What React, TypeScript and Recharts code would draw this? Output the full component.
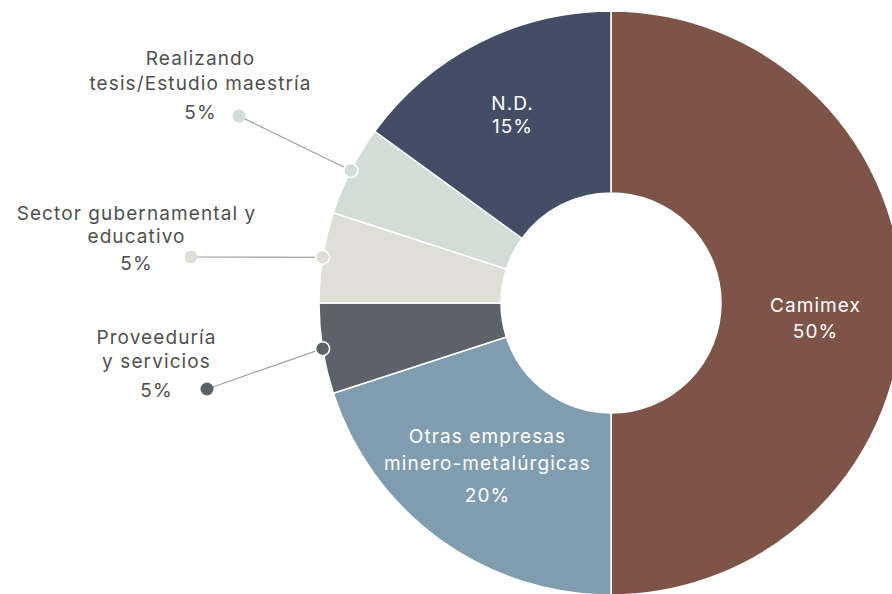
import { PieChart, Pie, Cell } from "recharts"

const names = [
  "Camimex",
  "Otras empresas minero-metalúrgicas",
  "Proveeduría y servicios",
  "Sector gubernamental y educativo",
  "Realizando tesis/Estudio maestría",
  "N.D.",
]
const values = [50, 20, 5, 5, 5, 15]
const colors = ["#7e5449", "#7f9daf", "#5b626a", "#e0dfd7", "#d3ddd8", "#434e66"]

// label lines as they are broken in the original
const labelLines = [
  ["Camimex", "50%"],
  ["Otras empresas", "minero-metalúrgicas", "20%"],
  ["Proveeduría", "y servicios", "5%"],
  ["Sector gubernamental y", "educativo", "5%"],
  ["Realizando", "tesis/Estudio maestría", "5%"],
  ["N.D.", "15%"],
]

const data = names.map((name, i) => ({ name, value: values[i] }))

// label placement, offsets from the pie centre
type Layout = { x: number; ys: number[]; dot?: [number, number] }
const layout: Layout[] = [
  { x: 204, ys: [9, 35] },
  { x: -124, ys: [140, 167, 199] },
  { x: -455, ys: [41, 65, 94], dot: [-404, 86] },
  { x: -475, ys: [-83, -60, -33], dot: [-420, -46] },
  { x: -411, ys: [-238, -213, -184], dot: [-372, -187] },
  { x: -99, ys: [-193, -170] },
]

const RAD = Math.PI / 180
const font = "Inter, sans-serif"

function renderLabel(props: any) {
  const { cx, cy, midAngle, outerRadius, index } = props
  const l = layout[index]
  const inside = !l.dot
  const text = (
    <text
      textAnchor="middle"
      fontFamily={font}
      fontSize={19}
      fontWeight={400}
      letterSpacing={1.1}
      fill={inside ? "#ffffff" : "#505050"}
    >
      {labelLines[index].map((t, k) => (
        <tspan key={k} x={cx + l.x + 0.5} y={cy + l.ys[k]}>
          {t}
        </tspan>
      ))}
    </text>
  )
  if (inside) return <g key={index}>{text}</g>
  const ex = cx + outerRadius * Math.cos(-midAngle * RAD)
  const ey = cy + outerRadius * Math.sin(-midAngle * RAD)
  const dx = cx + l.dot![0]
  const dy = cy + l.dot![1]
  return (
    <g key={index}>
      <line x1={dx} y1={dy} x2={ex} y2={ey} stroke="#a0a0a0" strokeWidth={1.2} />
      <circle cx={dx} cy={dy} r={6.5} fill={colors[index]} />
      <circle cx={ex} cy={ey} r={7} fill={colors[index]} stroke="#ffffff" strokeWidth={1.5} />
      {text}
    </g>
  )
}

export default function App() {
  return (
    <div style={{ position: "absolute", left: 0, top: 0, width: 892, height: 594, background: "#fff" }}>
      <PieChart width={892} height={594} margin={{ top: 0, right: 0, bottom: 0, left: 0 }}>
        <Pie
          data={data}
          dataKey="value"
          cx={611}
          cy={303}
          innerRadius={110}
          outerRadius={292}
          startAngle={90}
          endAngle={-270}
          stroke="#ffffff"
          strokeWidth={1.5}
          label={renderLabel}
          labelLine={false}
          isAnimationActive={false}
        >
          {data.map((d, i) => (
            <Cell key={d.name} fill={colors[i]} />
          ))}
        </Pie>
      </PieChart>
    </div>
  )
}
